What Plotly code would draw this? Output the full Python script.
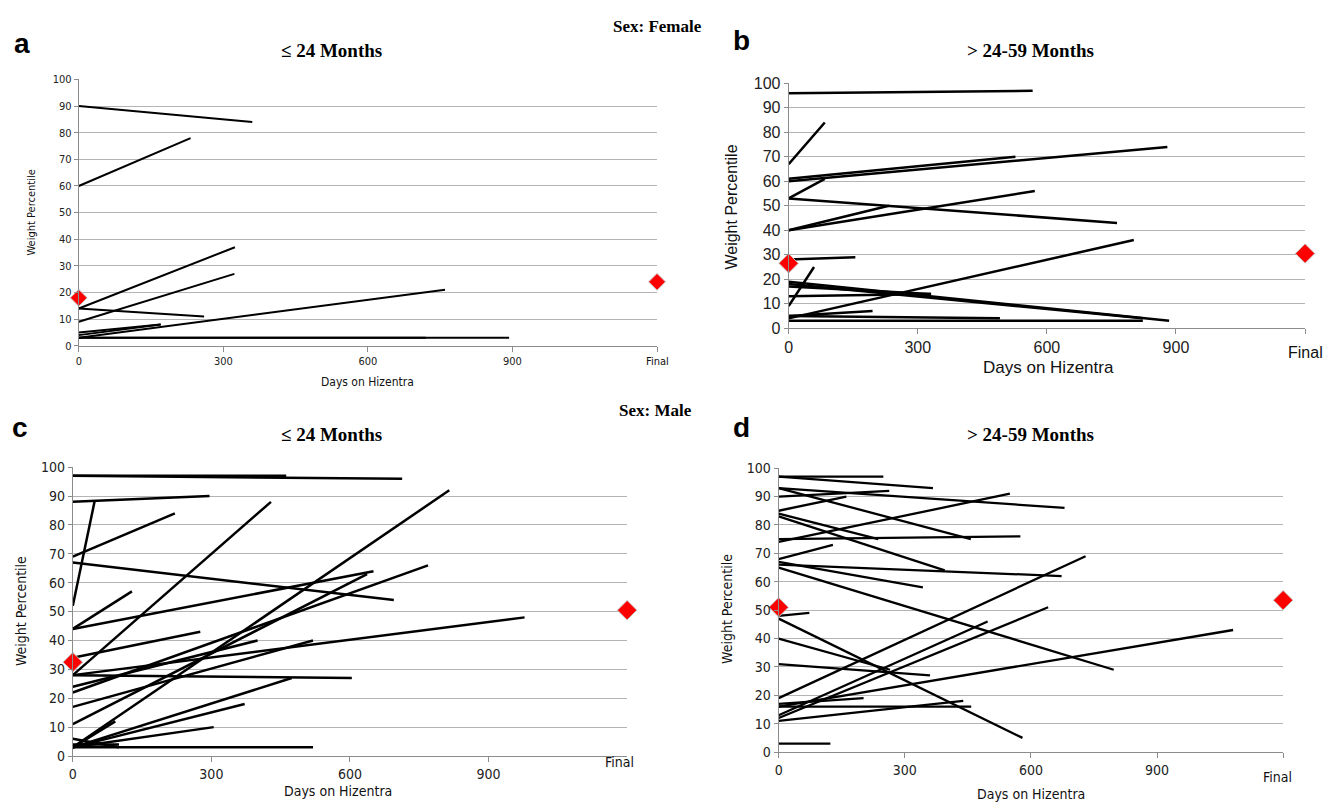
import plotly.graph_objects as go

W, H = 1333, 812

# ---------------- data ----------------
# Panel a: Female, <=24 months  (every segment starts at day 0)
A_START = [90, 60, 14, 9, 14, 3, 5, 4, 3, 3]
A_END_DAY = [360, 232, 324, 323, 260, 760, 170, 170, 893, 720]
A_END = [84, 78, 37, 27, 11, 21, 8, 8, 3, 3]
A_MEAN = [18, 24]            # mean at baseline, mean at final

# Panel b: Female, >24-59 months
B_START = [96, 67, 61, 60, 53, 53, 40, 40, 28, 9, 19, 18, 17, 13, 4, 5, 5, 3]
B_END_DAY = [567, 84, 527, 880, 84, 763, 572, 233, 155, 59, 884, 823, 331, 331, 802, 195, 491, 823]
B_END = [97, 84, 70, 74, 61, 43, 56, 50, 29, 25, 3, 4, 14, 14, 36, 7, 4, 3]
B_MEAN = [26.5, 30.5]

# Panel c: Male, <=24 months
C_START = [97, 97, 88, 52, 69, 67, 44, 44, 28, 3, 11, 22, 34, 24, 17, 28, 28, 3, 3, 3, 3, 6, 3, 4]
C_END_DAY = [462, 713, 296, 47, 221, 695, 128, 651, 429, 815, 637, 769, 276, 400, 520, 978, 604, 474, 372, 305, 520, 100, 92, 100]
C_END = [97, 96, 90, 88, 84, 54, 57, 64, 88, 92, 63, 66, 43, 40, 40, 48, 27, 27, 18, 10, 3, 3, 12, 4]
C_MEAN = [32.5, 50.5]

# Panel d: Male, >24-59 months
D_START = [97, 97, 90, 93, 93, 85, 84, 83, 74, 75, 68, 67, 66, 65, 19, 13, 12, 16, 48, 47, 40, 31, 17, 16, 11, 3]
D_END_DAY = [249, 367, 263, 680, 457, 161, 237, 395, 550, 575, 129, 343, 673, 797, 730, 497, 641, 1081, 73, 580, 265, 360, 202, 458, 439, 123]
D_END = [97, 93, 92, 86, 75, 90, 75, 64, 91, 76, 73, 58, 62, 29, 69, 46, 51, 43, 49, 5, 29, 27, 19, 16, 18, 3]
D_MEAN = [51, 53.5]

FINAL_DAY = 1200
X_TICKS = [0, 300, 600, 900, FINAL_DAY]
X_TICKTEXT = ["0", "300", "600", "900", ""]
Y_TICKS = [0, 10, 20, 30, 40, 50, 60, 70, 80, 90, 100]

# ---------------- helpers ----------------
def X(px):
    return px / W

def Y(py):
    return 1 - py / H

def segments(starts, end_days, ends):
    xs, ys = [], []
    for s, d, e in zip(starts, end_days, ends):
        xs += [0, d, None]
        ys += [s, e, None]
    return xs, ys

NARROW = "DejaVu Sans Condensed, Liberation Sans Narrow, Arial Narrow, Liberation Sans, Arial"
SANS = "Liberation Sans, Arial, Helvetica"
SERIF = "Liberation Serif, Times New Roman, serif"

panels = [
    dict(k="", data=(A_START, A_END_DAY, A_END, A_MEAN), xd=(75, 655), yd=(73, 345), fs=11, fam=NARROW, lw=2.0, ms=13, nt=5),
    dict(k="2", data=(B_START, B_END_DAY, B_END, B_MEAN), xd=(787, 1305), yd=(77, 327), fs=16, fam=SANS, lw=2.5, ms=15, nt=5),
    dict(k="3", data=(C_START, C_END_DAY, C_END, C_MEAN), xd=(69, 625), yd=(469, 764), fs=14, fam=NARROW, lw=2.5, ms=15, nt=4),
    dict(k="4", data=(D_START, D_END_DAY, D_END, D_MEAN), xd=(777, 1283), yd=(470, 760), fs=14, fam=NARROW, lw=2.3, ms=15, nt=5),
]

fig = go.Figure()
layout = dict(
    width=W, height=H,
    margin=dict(l=0, r=0, t=0, b=0),
    paper_bgcolor="white", plot_bgcolor="white",
    showlegend=False,
)

for p in panels:
    st, ed, en, mean = p["data"]
    xs, ys = segments(st, ed, en)
    xa = "x" + p["k"]
    ya = "y" + p["k"]
    fig.add_trace(go.Scatter(
        x=xs, y=ys, mode="lines", xaxis=xa, yaxis=ya,
        line=dict(color="black", width=p["lw"]), hoverinfo="skip",
    ))
    fig.add_trace(go.Scatter(
        x=[0, FINAL_DAY], y=mean, mode="markers", xaxis=xa, yaxis=ya,
        marker=dict(symbol="diamond", color="#ff0000", size=p["ms"],
                    line=dict(color="#c8c8c8", width=1)),
        cliponaxis=False,
    ))
    layout["xaxis" + p["k"]] = dict(
        domain=[X(p["xd"][0]), X(p["xd"][1])], range=[0, FINAL_DAY],
        anchor=ya, tickvals=X_TICKS[:p["nt"]], ticktext=X_TICKTEXT[:p["nt"]],
        showgrid=False, zeroline=False, showline=True, linecolor="#8c8c8c", linewidth=1,
        ticks="outside", ticklen=5, tickcolor="#8c8c8c",
        tickfont=dict(family=p["fam"], size=p["fs"], color="#222"),
    )
    layout["yaxis" + p["k"]] = dict(
        domain=[Y(p["yd"][1]), Y(p["yd"][0])], range=[0, 100],
        anchor=xa, tickvals=Y_TICKS,
        showgrid=True, gridcolor="#b4b4b4", gridwidth=1, zeroline=False,
        showline=True, linecolor="#8c8c8c", linewidth=1,
        ticks="outside", ticklen=4, tickcolor="#8c8c8c",
        tickfont=dict(family=p["fam"], size=p["fs"], color="#222"),
    )

fig.update_layout(**layout)

def note(text, px, py, size, family, bold=False, angle=0, color="#111"):
    t = "<b>%s</b>" % text if bold else text
    fig.add_annotation(text=t, x=X(px), y=Y(py), xref="paper", yref="paper",
                       xanchor="center", yanchor="middle", showarrow=False,
                       textangle=angle, font=dict(family=family, size=size, color=color))

# panel letters
note("a", 18, 36, 28, SANS, bold=True, color="black")
note("b", 740, 33, 28, SANS, bold=True, color="black")
note("c", 16, 428, 28, SANS, bold=True, color="black")
note("d", 740, 428, 28, SANS, bold=True, color="black")

# headers
note("Sex: Female", 655, 19, 17, SERIF, bold=True, color="black")
note("Sex: Male", 653, 411, 17, SERIF, bold=True, color="black")
note("≤ 24 Months", 328, 43, 19, SERIF, bold=True, color="black")
note("&gt; 24-59 Months", 1030, 43, 19, SERIF, bold=True, color="black")
note("≤ 24 Months", 328, 436, 19, SERIF, bold=True, color="black")
note("&gt; 24-59 Months", 1030, 436, 19, SERIF, bold=True, color="black")

# axis titles
note("Weight Percentile", 28, 209, 11, NARROW, angle=-90)
note("Weight Percentile", 730, 203, 16, SANS, angle=-90)
note("Weight Percentile", 17, 616, 14, NARROW, angle=-90)
note("Weight Percentile", 725, 614, 14, NARROW, angle=-90)
note("Days on Hizentra", 365, 382, 12, NARROW)
note("Days on Hizentra", 1048, 367, 17, SANS)
note("Days on Hizentra", 335, 800, 14, NARROW)
note("Days on Hizentra", 1030, 803, 14, NARROW)

# "Final" labels
note("Final", 655, 361, 11, NARROW)
note("Final", 1305, 352, 16, SANS)
note("Final", 617, 770, 14, NARROW)
note("Final", 1277, 785, 14, NARROW)

fig.write_html(
    "out.html",
    config={"displayModeBar": False},
    post_script="document.body.style.margin='0';document.body.style.overflow='hidden';",
)
